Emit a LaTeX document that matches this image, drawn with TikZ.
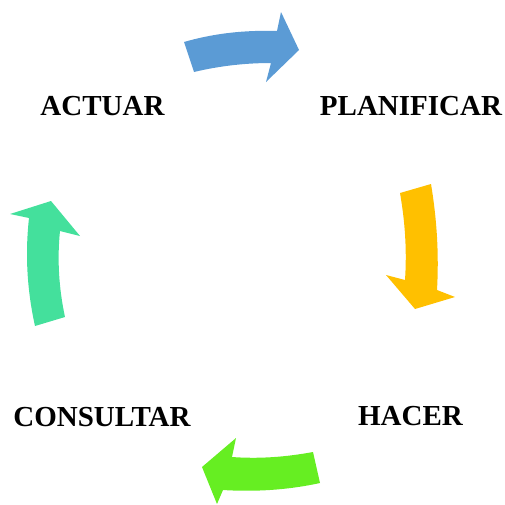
\documentclass[tikz,border=0pt]{standalone}
\usepackage{fontspec}
\setmainfont{Liberation Serif}
\definecolor{cycBlue}{HTML}{5B9BD5}
\definecolor{cycYellow}{HTML}{FFC000}
\definecolor{cycGreen}{HTML}{66EE22}
\definecolor{cycTeal}{HTML}{44E09C}
\begin{document}
\begin{tikzpicture}[x=1pt,y=-1pt,
  stagelabel/.style={inner sep=0pt,font=\fontsize{29}{35}\selectfont\bfseries},
  cyclearrow/.style={draw=none}]
\useasboundingbox (0,0) rectangle (505,504);

% stage labels
\node[stagelabel] (actuar) at (102.5,106.5) {ACTUAR};
\node[stagelabel] (planificar) at (411,106.5) {PLANIFICAR};
\node[stagelabel] (hacer) at (410.5,416.5) {HACER};
\node[stagelabel] (consultar) at (102,417) {CONSULTAR};

% top arrow: ACTUAR -> PLANIFICAR
\fill[cyclearrow,cycBlue] (184,42) .. controls (215,33) and (246,30) .. (277,31)
  -- (281,12) -- (299,50) -- (266,82) -- (271,63)
  .. controls (245,63) and (219,66) .. (194,72) -- cycle;

% right arrow: PLANIFICAR -> HACER
\fill[cyclearrow,cycYellow] (431,184) .. controls (437,220) and (439,255) .. (437,290)
  -- (455,297) -- (415,309) -- (386,275) -- (405,280)
  .. controls (407,250) and (405,222) .. (400,193) -- cycle;

% bottom arrow: HACER -> CONSULTAR
\fill[cyclearrow,cycGreen] (320,483) .. controls (288,490) and (255,492) .. (223,490)
  -- (217,504) -- (202,467) -- (236,438) -- (232,457)
  .. controls (259,459) and (286,457) .. (313,452) -- cycle;

% left arrow: CONSULTAR -> ACTUAR
\fill[cyclearrow,cycTeal] (35,326) .. controls (27,290) and (25,254) .. (29,218)
  -- (10,214) -- (51,201) -- (80,236) -- (60,231)
  .. controls (57,260) and (59,289) .. (65,317) -- cycle;
\end{tikzpicture}
\end{document}
